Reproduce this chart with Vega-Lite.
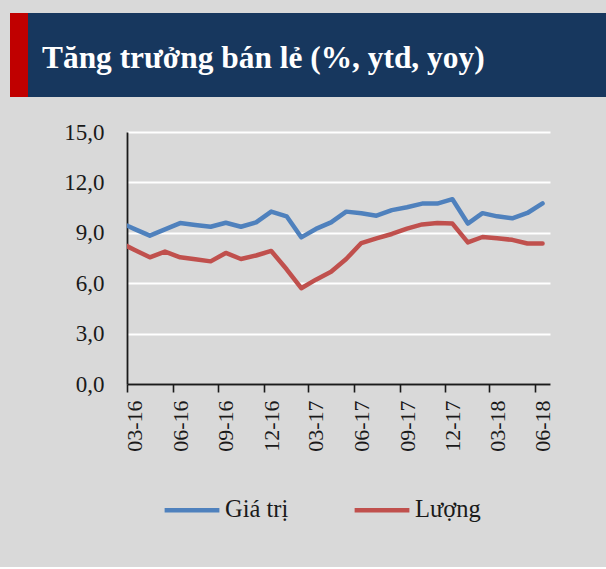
{
  "$schema": "https://vega.github.io/schema/vega-lite/v6.json",
  "background": "#d9d9d9",
  "padding": {"left": 10, "top": 13, "right": 0, "bottom": 45},
  "config": {
    "view": {"stroke": null},
    "font": "Liberation Serif",
    "axis": {"labelFont": "Liberation Serif", "labelColor": "#1a1a1a"},
    "legend": {"labelFont": "Liberation Serif", "labelColor": "#1a1a1a"}
  },
  "spacing": 24,
  "resolve": {"legend": {"color": "independent"}},
  "vconcat": [
    {
      "spacing": 0,
      "hconcat": [
        {
          "width": 18,
          "height": 84,
          "view": {"fill": "#c00000", "stroke": null},
          "data": {"values": [{"o": ""}]},
          "mark": {"type": "text", "text": ""}
        },
        {
          "width": 578,
          "height": 84,
          "view": {"fill": "#17375e", "stroke": null},
          "data": {"values": [{"tieu_de": "Tăng trưởng bán lẻ (%, ytd, yoy)"}]},
          "mark": {
            "type": "text",
            "align": "left",
            "baseline": "middle",
            "dx": -275,
            "dy": 4,
            "font": "Liberation Serif",
            "fontWeight": "bold",
            "fontSize": 31.4,
            "color": "#ffffff"
          },
          "encoding": {"text": {"field": "tieu_de"}}
        }
      ]
    },
    {
      "spacing": 0,
      "resolve": {"legend": {"color": "independent"}},
      "hconcat": [
        {
          "width": 1,
          "height": 252,
          "data": {"values": [{"o": ""}]},
          "mark": {"type": "text", "text": ""}
        },
        {
          "width": 423,
          "height": 252,
          "data": {
            "values": [
              {"thang": "2016-02", "chuoi": "Giá trị", "gia_tri": 9.62},
              {"thang": "2016-03", "chuoi": "Giá trị", "gia_tri": 9.22},
              {"thang": "2016-04", "chuoi": "Giá trị", "gia_tri": 8.83},
              {"thang": "2016-05", "chuoi": "Giá trị", "gia_tri": 9.2},
              {"thang": "2016-06", "chuoi": "Giá trị", "gia_tri": 9.58},
              {"thang": "2016-07", "chuoi": "Giá trị", "gia_tri": 9.47},
              {"thang": "2016-08", "chuoi": "Giá trị", "gia_tri": 9.36},
              {"thang": "2016-09", "chuoi": "Giá trị", "gia_tri": 9.6},
              {"thang": "2016-10", "chuoi": "Giá trị", "gia_tri": 9.36},
              {"thang": "2016-11", "chuoi": "Giá trị", "gia_tri": 9.62},
              {"thang": "2016-12", "chuoi": "Giá trị", "gia_tri": 10.26},
              {"thang": "2017-01", "chuoi": "Giá trị", "gia_tri": 9.98},
              {"thang": "2017-02", "chuoi": "Giá trị", "gia_tri": 8.73},
              {"thang": "2017-03", "chuoi": "Giá trị", "gia_tri": 9.23},
              {"thang": "2017-04", "chuoi": "Giá trị", "gia_tri": 9.62},
              {"thang": "2017-05", "chuoi": "Giá trị", "gia_tri": 10.26},
              {"thang": "2017-06", "chuoi": "Giá trị", "gia_tri": 10.16},
              {"thang": "2017-07", "chuoi": "Giá trị", "gia_tri": 10.02},
              {"thang": "2017-08", "chuoi": "Giá trị", "gia_tri": 10.35},
              {"thang": "2017-09", "chuoi": "Giá trị", "gia_tri": 10.52},
              {"thang": "2017-10", "chuoi": "Giá trị", "gia_tri": 10.74},
              {"thang": "2017-11", "chuoi": "Giá trị", "gia_tri": 10.74},
              {"thang": "2017-12", "chuoi": "Giá trị", "gia_tri": 11.0},
              {"thang": "2018-01", "chuoi": "Giá trị", "gia_tri": 9.55},
              {"thang": "2018-02", "chuoi": "Giá trị", "gia_tri": 10.17},
              {"thang": "2018-03", "chuoi": "Giá trị", "gia_tri": 9.98},
              {"thang": "2018-04", "chuoi": "Giá trị", "gia_tri": 9.86},
              {"thang": "2018-05", "chuoi": "Giá trị", "gia_tri": 10.18},
              {"thang": "2018-06", "chuoi": "Giá trị", "gia_tri": 10.75},
              {"thang": "2016-02", "chuoi": "Lượng", "gia_tri": 8.42},
              {"thang": "2016-03", "chuoi": "Lượng", "gia_tri": 7.98},
              {"thang": "2016-04", "chuoi": "Lượng", "gia_tri": 7.54},
              {"thang": "2016-05", "chuoi": "Lượng", "gia_tri": 7.88},
              {"thang": "2016-06", "chuoi": "Lượng", "gia_tri": 7.54},
              {"thang": "2016-07", "chuoi": "Lượng", "gia_tri": 7.42},
              {"thang": "2016-08", "chuoi": "Lượng", "gia_tri": 7.3},
              {"thang": "2016-09", "chuoi": "Lượng", "gia_tri": 7.8},
              {"thang": "2016-10", "chuoi": "Lượng", "gia_tri": 7.44},
              {"thang": "2016-11", "chuoi": "Lượng", "gia_tri": 7.65},
              {"thang": "2016-12", "chuoi": "Lượng", "gia_tri": 7.92},
              {"thang": "2017-01", "chuoi": "Lượng", "gia_tri": 6.83},
              {"thang": "2017-02", "chuoi": "Lượng", "gia_tri": 5.7},
              {"thang": "2017-03", "chuoi": "Lượng", "gia_tri": 6.21},
              {"thang": "2017-04", "chuoi": "Lượng", "gia_tri": 6.68},
              {"thang": "2017-05", "chuoi": "Lượng", "gia_tri": 7.44},
              {"thang": "2017-06", "chuoi": "Lượng", "gia_tri": 8.39},
              {"thang": "2017-07", "chuoi": "Lượng", "gia_tri": 8.67},
              {"thang": "2017-08", "chuoi": "Lượng", "gia_tri": 8.93},
              {"thang": "2017-09", "chuoi": "Lượng", "gia_tri": 9.25},
              {"thang": "2017-10", "chuoi": "Lượng", "gia_tri": 9.5},
              {"thang": "2017-11", "chuoi": "Lượng", "gia_tri": 9.58},
              {"thang": "2017-12", "chuoi": "Lượng", "gia_tri": 9.55},
              {"thang": "2018-01", "chuoi": "Lượng", "gia_tri": 8.43},
              {"thang": "2018-02", "chuoi": "Lượng", "gia_tri": 8.75},
              {"thang": "2018-03", "chuoi": "Lượng", "gia_tri": 8.67},
              {"thang": "2018-04", "chuoi": "Lượng", "gia_tri": 8.58},
              {"thang": "2018-05", "chuoi": "Lượng", "gia_tri": 8.36},
              {"thang": "2018-06", "chuoi": "Lượng", "gia_tri": 8.36}
            ]
          },
          "mark": {"type": "line", "strokeWidth": 4.5, "clip": true, "strokeCap": "round", "strokeJoin": "round"},
          "encoding": {
            "x": {
              "field": "thang",
              "type": "temporal",
              "timeUnit": "utcyearmonth",
              "bandPosition": 0.5,
              "scale": {
                "domain": [
                  {"year": 2016, "month": 3, "date": 1, "utc": true},
                  {"year": 2018, "month": 7, "date": 1, "utc": true}
                ]
              },
              "axis": {
                "title": null,
                "grid": false,
                "values": [
                  {"year": 2016, "month": 3, "date": 1, "utc": true},
                  {"year": 2016, "month": 6, "date": 1, "utc": true},
                  {"year": 2016, "month": 9, "date": 1, "utc": true},
                  {"year": 2016, "month": 12, "date": 1, "utc": true},
                  {"year": 2017, "month": 3, "date": 1, "utc": true},
                  {"year": 2017, "month": 6, "date": 1, "utc": true},
                  {"year": 2017, "month": 9, "date": 1, "utc": true},
                  {"year": 2017, "month": 12, "date": 1, "utc": true},
                  {"year": 2018, "month": 3, "date": 1, "utc": true},
                  {"year": 2018, "month": 6, "date": 1, "utc": true}
                ],
                "format": "%m-%y",
                "labelAngle": -90,
                "labelOffset": 7.6,
                "labelFontSize": 22,
                "labelPadding": 8,
                "tickSize": 8,
                "tickColor": "#1a1a1a",
                "tickWidth": 1.6,
                "domainColor": "#1a1a1a",
                "domainWidth": 1.8,
                "labelFlush": false,
                "labelOverlap": false
              }
            },
            "y": {
              "field": "gia_tri",
              "type": "quantitative",
              "scale": {"domain": [0, 15], "nice": false},
              "axis": {
                "title": null,
                "values": [0, 3, 6, 9, 12, 15],
                "labelExpr": "replace(format(datum.value, '.1f'), '.', ',')",
                "ticks": false,
                "labelPadding": 23,
                "labelFontSize": 23,
                "gridColor": "#ffffff",
                "gridWidth": 2,
                "gridOpacity": 1,
                "domainColor": "#1a1a1a",
                "domainWidth": 1.8,
                "minExtent": 116,
                "maxExtent": 116
              }
            },
            "color": {
              "field": "chuoi",
              "type": "nominal",
              "scale": {"domain": ["Giá trị", "Lượng"], "range": ["#4f81bd", "#c0504d"]},
              "legend": {
                "title": null,
                "orient": "none",
                "direction": "horizontal",
                "legendX": 35,
                "legendY": 348,
                "symbolType": "stroke",
                "symbolSize": 3000,
                "symbolStrokeWidth": 4.5,
                "labelFontSize": 24.5,
                "labelOffset": 3,
                "columnPadding": 56,
                "labelLimit": 200
              }
            }
          }
        }
      ]
    }
  ]
}
